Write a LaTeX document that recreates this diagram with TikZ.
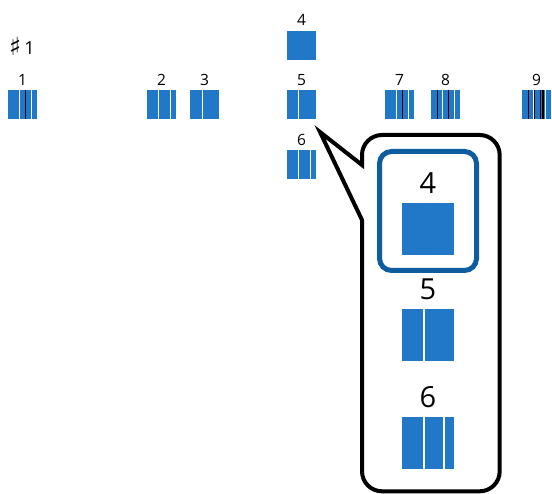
\documentclass[tikz,border=0pt]{standalone}
\usepackage{fontspec}
\setmainfont{Open Sans}
\newfontfamily\symfont{DejaVu Sans}
\definecolor{pblue}{RGB}{33,119,200}
\definecolor{dblue}{RGB}{14,93,160}
\newcommand{\threeseg}[2]{%
  \fill[seg] (#1,#2) rectangle ++(10.7,29);
  \fill[seg] (#1+12,#2) rectangle ++(10.7,29);
  \fill[seg] (#1+24,#2) rectangle ++(5,29);}
\newcommand{\blkline}[3]{\draw[bl] (#1+#3,#2) -- ++(0,29);}
\begin{document}
\begin{tikzpicture}[x=1pt,y=-1pt,
  seg/.style={fill=pblue},
  bigseg/.style={fill=pblue},
  bl/.style={black,line width=1.3pt},
  lab/.style={font=\fontsize{15.5}{16}\selectfont, inner sep=0pt, anchor=base},
  biglab/.style={font=\fontsize{29}{30}\selectfont, inner sep=0pt, anchor=base},
  callout/.style={draw=black, line width=4pt, fill=white, line join=miter},
  frame4/.style={draw=dblue, line width=5pt, rounded corners=12pt}]
\useasboundingbox (0,0) rectangle (552,494);

% header
\node[font=\fontsize{18}{18}\selectfont, inner sep=0pt, anchor=base west] (hdr) at (9,55) {{\symfont\fontsize{25}{25}\selectfont\raisebox{-1pt}{♯}}\hspace{3pt}1};

% pattern 1
\node[lab] (l1) at (22.5,85.5) {1};
\threeseg{8}{90}
\blkline{8}{90}{17.3}
% pattern 2
\node[lab] (l2) at (161.5,85.5) {2};
\threeseg{147}{90}
% pattern 3
\node[lab] (l3) at (204.5,85.5) {3};
\fill[seg] (190,90) rectangle ++(11.5,29);
\fill[seg] (202.8,90) rectangle (219,119);
% pattern 4
\node[lab] (l4) at (301.5,26) {4};
\fill[seg] (287,31) rectangle ++(29,29);
% pattern 5
\node[lab] (l5) at (301.5,85.5) {5};
\fill[seg] (287,90) rectangle ++(10.7,29);
\fill[seg] (299,90) rectangle (316,119);
% pattern 6
\node[lab] (l6) at (301.5,145.5) {6};
\threeseg{287}{150}
% pattern 7
\node[lab] (l7) at (399.5,85.5) {7};
\threeseg{385}{90}
\blkline{385}{90}{17.3}
% pattern 8
\node[lab] (l8) at (445.5,85.5) {8};
\threeseg{431}{90}
\blkline{431}{90}{6.3}
\blkline{431}{90}{17.7}
% pattern 9
\node[lab] (l9) at (536.5,85.5) {9};
\threeseg{522}{90}
\blkline{522}{90}{6.7}
\blkline{522}{90}{12.7}
\blkline{522}{90}{18.7}
\blkline{522}{90}{20.9}

% callout bubble
\coordinate (tip) at (320,132);
\draw[callout] (362,165) -- (362,155) .. controls (362,143.95) and (370.95,135) .. (382,135)
  -- (479.7,135) .. controls (490.75,135) and (499.7,143.95) .. (499.7,155)
  -- (499.7,471.3) .. controls (499.7,482.35) and (490.75,491.3) .. (479.7,491.3)
  -- (382,491.3) .. controls (370.95,491.3) and (362,482.35) .. (362,471.3)
  -- (362,220) -- (tip) -- cycle;

% highlighted 4
\draw[frame4] (379.5,151.5) rectangle (476.5,270.5);
\node[biglab] (b4) at (428,194) {4};
\fill[bigseg] (402,203) rectangle (454,255);
% big 5
\node[biglab] (b5) at (428,300) {5};
\fill[bigseg] (402,309) rectangle (423,361);
\fill[bigseg] (425,309) rectangle (454,361);
% big 6
\node[biglab] (b6) at (428,408) {6};
\fill[bigseg] (402,417) rectangle (423,469);
\fill[bigseg] (425,417) rectangle (443,469);
\fill[bigseg] (445,417) rectangle (454,469);
\end{tikzpicture}
\end{document}
